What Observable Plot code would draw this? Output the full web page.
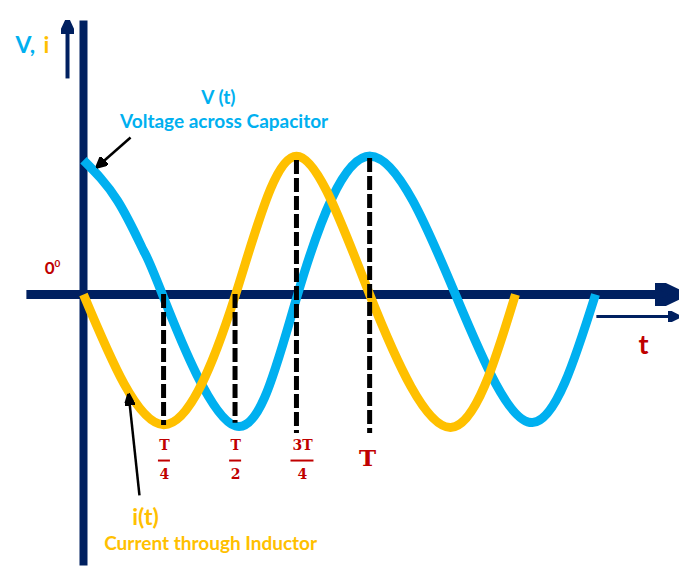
<!DOCTYPE html>
<html><head><meta charset="utf-8">
<script src="https://cdn.jsdelivr.net/npm/d3@7"></script>
<script src="https://cdn.jsdelivr.net/npm/@observablehq/plot@0.6"></script>
<style>body{margin:0;background:#fff}</style>
</head><body><div id="chart"></div>
<script>
// ---- data (time in units of T, value in units of amplitude) ----
const blueT = [0, 0.118, 0.209, 0.275, 0.530, 0.746, 1.0, 1.296, 1.564, 1.784];
const blueV = [0.98, 0.686, 0.321, 0, -0.96, 0, 1.01, 0, -0.935, 0];
const goldT = [0, 0.279, 0.530, 0.742, 0.997, 1.279, 1.505];
const goldV = [0, -0.95, 0, 1.01, 0, -0.97, 0];

// dashed marker lines
const markT = [0.279, 0.528, 0.742, 0.997];
const markTop = [0, 0, 0.978, 0.993];
const markBottom = [-0.956, -0.94, -1.015, -1.015];

// tick labels
const fracT = [0.282, 0.530, 0.763];
const fracNum = ["T", "T", "3T"];
const fracDen = ["4", "2", "4"];
const fracBarV = -1.212;
const fullT = 0.990, fullLabel = "T", fullV = -1.197;

// axes extents
const vAxisT = 0, vAxisV = [-1.978, 2.0];
const hAxisV = 0, hAxisT = [-0.199, 1.993];
const upArrowT = -0.0557, upArrowV = [1.577, 1.905];
const tArrowV = -0.161, tArrowT = [1.787, 2.038];

// annotations
const labelText = ["V (t)", "Voltage across Capacitor", "i(t)", "Current through Inductor"];
const labelT = [0.470, 0.490, 0.216, 0.443];
const labelV = [1.438, 1.263, -1.628, -1.818];
const calloutFrom = [[0.164, 1.146], [0.195, -1.467]];
const calloutTo = [[0.045, 0.927], [0.157, -0.723]];

// ---- styles ----
const navy = "#002060", blue = "#00B0F0", gold = "#FFC000", red = "#C00000";
const sans = "Lato, 'Open Sans', sans-serif";
const serif = "'DejaVu Serif', 'Liberation Serif', serif";

function head(len, half, refX) {
  return (color) => {
    const m = d3.create("svg:marker")
      .attr("viewBox", `0 ${-half} ${len} ${2 * half}`)
      .attr("markerWidth", len).attr("markerHeight", 2 * half)
      .attr("markerUnits", "userSpaceOnUse")
      .attr("refX", refX).attr("refY", 0)
      .attr("orient", "auto");
    m.append("path").attr("d", `M0,${-half}L${len},0L0,${half}Z`).attr("fill", color);
    return m.node();
  };
}

const blue_ = blueT.map((t, i) => ({t, v: blueV[i]}));
const gold_ = goldT.map((t, i) => ({t, v: goldV[i]}));
const marks_ = markT.map((t, i) => ({t, top: markTop[i], bottom: markBottom[i]}));
const fracs = fracT.map((t, i) => ({t, num: fracNum[i], den: fracDen[i]}));
const labels = labelText.map((s, i) => ({s, t: labelT[i], v: labelV[i]}));
const callouts = calloutFrom.map((f, i) => ({x1: f[0], y1: f[1], x2: calloutTo[i][0], y2: calloutTo[i][1]}));

const pxPerT = 287; // scale: x range / domain
const chart = Plot.plot({
  width: 698, height: 572,
  marginTop: 0, marginRight: 0, marginBottom: 0, marginLeft: 0,
  x: {domain: [0, 1], range: [83, 370], axis: null},
  y: {domain: [0, 1], range: [294, 157], axis: null},
  style: {background: "#fff", overflow: "visible"},
  marks: [
    // axes
    Plot.link([{x1: vAxisT, y1: vAxisV[0], x2: vAxisT, y2: vAxisV[1]}], {x1: "x1", y1: "y1", x2: "x2", y2: "y2", stroke: navy, strokeWidth: 8}),
    Plot.link([{x1: hAxisT[0], y1: hAxisV, x2: hAxisT[1], y2: hAxisV}], {x1: "x1", y1: "y1", x2: "x2", y2: "y2", stroke: navy, strokeWidth: 9, markerEnd: head(24, 11.5, 0)}),
    Plot.link([{x1: upArrowT, y1: upArrowV[0], x2: upArrowT, y2: upArrowV[1]}], {x1: "x1", y1: "y1", x2: "x2", y2: "y2", stroke: navy, strokeWidth: 4, markerEnd: head(14, 6.5, 0)}),
    Plot.link([{x1: tArrowT[0], y1: tArrowV, x2: tArrowT[1], y2: tArrowV}], {x1: "x1", y1: "y1", x2: "x2", y2: "y2", stroke: navy, strokeWidth: 3, markerEnd: head(11, 5.5, 0)}),
    // curves
    Plot.line(blue_, {x: "t", y: "v", curve: "natural", stroke: blue, strokeWidth: 9, strokeLinecap: "butt"}),
    Plot.line(gold_, {x: "t", y: "v", curve: "natural", stroke: gold, strokeWidth: 9, strokeLinecap: "butt"}),
    // dashed lines
    Plot.ruleX(marks_, {x: "t", y1: "top", y2: "bottom", stroke: "black", strokeWidth: 5, strokeDasharray: "14,4"}),
    // callout arrows
    Plot.link(callouts.slice(0, 1), {x1: "x1", y1: "y1", x2: "x2", y2: "y2", stroke: "black", strokeWidth: 2.5, markerEnd: head(11, 5.5, 11)}),
    Plot.link(callouts.slice(1), {x1: "x1", y1: "y1", x2: "x2", y2: "y2", stroke: "black", strokeWidth: 2.5, markerEnd: head(12, 5, 12)}),
    // tick labels
    Plot.text(fracs, {x: "t", y: () => fracBarV, text: "num", dy: -15, fill: red, fontFamily: serif, fontWeight: "bold", fontSize: 14}),
    Plot.ruleY(fracs, {y: () => fracBarV, x1: d => d.t - (d.num.length * 5.5 + 0.5) / pxPerT, x2: d => d.t + (d.num.length * 5.5 + 0.5) / pxPerT, stroke: red, strokeWidth: 2}),
    Plot.text(fracs, {x: "t", y: () => fracBarV, text: "den", dy: 14, fill: red, fontFamily: serif, fontWeight: "bold", fontSize: 14}),
    Plot.text([fullLabel], {x: () => fullT, y: () => fullV, text: d => d, fill: red, fontFamily: serif, fontWeight: "bold", fontSize: 23}),
    // axis labels
    Plot.text(["V,"], {x: () => -0.237, y: () => 1.818, text: d => d, textAnchor: "start", fill: blue, fontFamily: sans, fontWeight: "bold", fontSize: 23}),
    Plot.text(["i"], {x: () => -0.139, y: () => 1.818, text: d => d, textAnchor: "start", fill: gold, fontFamily: sans, fontWeight: "bold", fontSize: 23}),
    Plot.text(["t"], {x: () => 1.951, y: () => -0.372, text: d => d, fill: red, fontFamily: sans, fontWeight: "bold", fontSize: 27}),
    Plot.text(["0"], {x: () => -0.118, y: () => 0.19, text: d => d, fill: red, fontFamily: sans, fontWeight: "bold", fontSize: 17}),
    Plot.text(["0"], {x: () => -0.091, y: () => 0.225, text: d => d, fill: red, fontFamily: sans, fontWeight: "bold", fontSize: 10}),
    // annotations
    Plot.text(labels.slice(0, 2), {x: "t", y: "v", text: "s", fill: blue, fontFamily: sans, fontWeight: "bold", fontSize: 19}),
    Plot.text(labels.slice(2, 3), {x: "t", y: "v", text: "s", fill: gold, fontFamily: sans, fontWeight: "bold", fontSize: 23}),
    Plot.text(labels.slice(3), {x: "t", y: "v", text: "s", fill: gold, fontFamily: sans, fontWeight: "bold", fontSize: 19})
  ]
});
document.getElementById("chart").append(chart);
</script>
</body></html>
